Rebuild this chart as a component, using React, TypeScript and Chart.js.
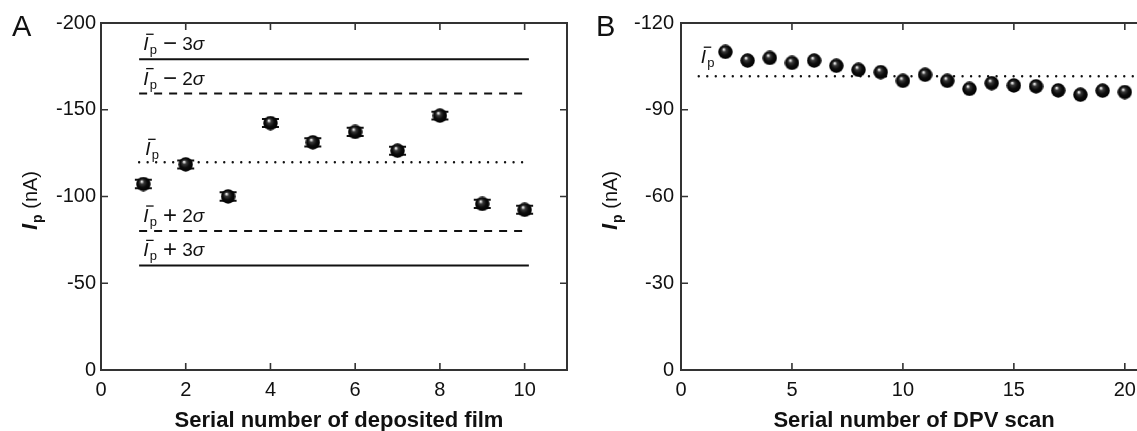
import React, { useEffect, useRef } from "react";
import { Chart, registerables } from "chart.js";

Chart.register(...registerables);

const FONT = '"Liberation Sans", Arial, Helvetica, sans-serif';
const INK = "#111111";
const AXIS = "#333333";

// ---------- Panel A: deposited films ----------
const filmSerial = [1, 2, 3, 4, 5, 6, 7, 8, 9, 10];
const filmPeak = [-107.2, -118.5, -100.0, -142.3, -131.2, -137.2, -126.4, -146.6, -95.7, -92.3];
const filmError = [2.4, 2.3, 2.5, 2.3, 2.4, 2.4, 2.3, 2.2, 2.4, 2.3];
const controlLevels = [-179.1, -159.3, -119.7, -80.1, -60.3];
const controlOps = ["−", "−", "", "+", "+"];
const controlMults = ["3", "2", "", "2", "3"];
const controlStyles = ["solid", "dashed", "dotted", "dashed", "solid"];
const controlSpan = [0.9, 10.1];
const filmXTicks = [0, 2, 4, 6, 8, 10];
const filmYTicks = [0, -50, -100, -150, -200];

// ---------- Panel B: repeated DPV scans ----------
const scanSerial = [2, 3, 4, 5, 6, 7, 8, 9, 10, 11, 12, 13, 14, 15, 16, 17, 18, 19, 20];
const scanPeak = [-110.0, -107.0, -107.9, -106.2, -107.0, -105.2, -103.8, -103.0, -100.0, -102.1, -100.0, -97.2, -99.2, -98.4, -98.1, -96.7, -95.2, -96.6, -96.1];
const scanMeanLevels = [-101.6];
const scanMeanStyles = ["dotted"];
const scanMeanSpan = [0.8, 21];
const scanXTicks = [0, 5, 10, 15, 20];
const scanYTicks = [0, -30, -60, -90, -120];

function makeSphere(d: number): HTMLCanvasElement {
  const c = document.createElement("canvas");
  c.width = d;
  c.height = d;
  const g = c.getContext("2d")!;
  const r = d / 2;
  const grad = g.createRadialGradient(r * 0.75, r * 0.62, 0, r, r, r);
  grad.addColorStop(0, "#ffffff");
  grad.addColorStop(0.1, "#d8d8d8");
  grad.addColorStop(0.28, "#3a3a3a");
  grad.addColorStop(0.6, "#0c0c0c");
  grad.addColorStop(1, "#000000");
  g.fillStyle = grad;
  g.beginPath();
  g.arc(r, r, r - 0.3, 0, Math.PI * 2);
  g.fill();
  return c;
}

function dashFor(style: string): { dash: number[]; cap: CanvasLineCap; width: number } {
  if (style === "dashed") return { dash: [8, 7], cap: "butt", width: 2 };
  if (style === "dotted") return { dash: [0.01, 8.5], cap: "round", width: 2.4 };
  return { dash: [], cap: "butt", width: 2 };
}

function drawIbar(ctx: CanvasRenderingContext2D, x: number, y: number, op: string, mult: string) {
  ctx.save();
  ctx.fillStyle = INK;
  ctx.strokeStyle = INK;
  ctx.textAlign = "left";
  ctx.textBaseline = "alphabetic";
  ctx.font = `italic 19px ${FONT}`;
  ctx.fillText("I", x, y);
  ctx.lineWidth = 1.3;
  ctx.beginPath();
  ctx.moveTo(x + 3, y - 16);
  ctx.lineTo(x + 10.5, y - 16);
  ctx.stroke();
  ctx.font = `13px ${FONT}`;
  ctx.fillText("p", x + 6.5, y + 4);
  if (op) {
    ctx.font = `24px ${FONT}`;
    ctx.textAlign = "center";
    ctx.fillText(op, x + 27, y + 1);
    ctx.textAlign = "left";
    ctx.font = `19px ${FONT}`;
    ctx.fillText(mult, x + 39, y);
    ctx.font = `italic 19px ${FONT}`;
    ctx.fillText("σ", x + 49.5, y);
  }
  ctx.restore();
}

type LabelSpec = { level: number; op: string; mult: string; dx: number; dy: number };

type PanelSpec = {
  letter: string;
  letterX: number;
  xMax: number;
  yMin: number;
  xTicks: number[];
  yTicks: number[];
  yTickPad: number;
  xTitle: string;
  xTitleCenter: number;
  serial: number[];
  peak: number[];
  errors?: number[];
  levels: number[];
  styles: string[];
  span: number[];
  labels: LabelSpec[];
};

function buildChart(canvas: HTMLCanvasElement, spec: PanelSpec) {
  const sphere = makeSphere(15);
  const datasets: any[] = [
    {
      data: spec.serial.map((x, i) => ({ x, y: spec.peak[i] })),
      pointStyle: sphere,
      pointRadius: 7.5,
      showLine: false,
    },
  ];
  spec.levels.forEach((lv, i) => {
    const d = dashFor(spec.styles[i]);
    datasets.push({
      data: spec.span.map((x) => ({ x, y: lv })),
      showLine: true,
      pointRadius: 0,
      borderColor: INK,
      borderWidth: d.width,
      borderDash: d.dash,
      borderCapStyle: d.cap,
      fill: false,
    });
  });

  const decor = {
    id: "decor",
    beforeDatasetsDraw(chart: any) {
      if (!spec.errors) return;
      const ctx = chart.ctx as CanvasRenderingContext2D;
      const ys = chart.scales.y;
      const meta = chart.getDatasetMeta(0);
      ctx.save();
      ctx.strokeStyle = INK;
      ctx.lineWidth = 2;
      meta.data.forEach((pt: any, i: number) => {
        const top = ys.getPixelForValue(spec.peak[i] - spec.errors![i]);
        const bot = ys.getPixelForValue(spec.peak[i] + spec.errors![i]);
        ctx.beginPath();
        ctx.moveTo(pt.x, top);
        ctx.lineTo(pt.x, bot);
        ctx.moveTo(pt.x - 8.5, top);
        ctx.lineTo(pt.x + 8.5, top);
        ctx.moveTo(pt.x - 8.5, bot);
        ctx.lineTo(pt.x + 8.5, bot);
        ctx.stroke();
      });
      ctx.restore();
    },
    afterDraw(chart: any) {
      const ctx = chart.ctx as CanvasRenderingContext2D;
      const { left, right, top, bottom } = chart.chartArea;
      const xs = chart.scales.x;
      const ys = chart.scales.y;
      ctx.save();
      ctx.strokeStyle = AXIS;
      ctx.lineWidth = 2;
      ctx.strokeRect(left, top, right - left, bottom - top);
      ctx.lineWidth = 1.6;
      ctx.beginPath();
      xs.ticks.forEach((t: any) => {
        const px = xs.getPixelForValue(t.value);
        if (px <= left + 1 || px >= right - 1) return;
        ctx.moveTo(px, bottom);
        ctx.lineTo(px, bottom - 7);
        ctx.moveTo(px, top);
        ctx.lineTo(px, top + 7);
      });
      ys.ticks.forEach((t: any) => {
        const py = ys.getPixelForValue(t.value);
        if (py <= top + 1 || py >= bottom - 1) return;
        ctx.moveTo(left, py);
        ctx.lineTo(left + 7, py);
        ctx.moveTo(right, py);
        ctx.lineTo(right - 7, py);
      });
      ctx.stroke();

      ctx.fillStyle = INK;
      ctx.textAlign = "left";
      ctx.textBaseline = "alphabetic";
      ctx.font = `29px ${FONT}`;
      ctx.fillText(spec.letter, spec.letterX, 36);

      ctx.font = `bold 22px ${FONT}`;
      ctx.textAlign = "center";
      ctx.fillText(spec.xTitle, spec.xTitleCenter, 427);

      ctx.save();
      ctx.translate(37, 230);
      ctx.rotate(-Math.PI / 2);
      ctx.textAlign = "left";
      ctx.font = `italic bold 22px ${FONT}`;
      ctx.fillText("I", 0, 0);
      let w = ctx.measureText("I").width + 1;
      ctx.font = `bold 14px ${FONT}`;
      ctx.fillText("p", w, 5);
      w += ctx.measureText("p").width;
      ctx.font = `20px ${FONT}`;
      ctx.fillText(" (nA)", w, 0);
      ctx.restore();

      const x0 = xs.getPixelForValue(spec.span[0]);
      spec.labels.forEach((lb) => {
        drawIbar(ctx, x0 + lb.dx, ys.getPixelForValue(lb.level) + lb.dy, lb.op, lb.mult);
      });
      ctx.restore();
    },
  };

  const tickFont = { family: FONT, size: 20 };
  return new Chart(canvas, {
    type: "scatter",
    data: { datasets },
    options: {
      responsive: false,
      animation: false,
      events: [],
      layout: { padding: { left: 41, right: 13, top: 23, bottom: 0 } },
      plugins: { legend: { display: false }, tooltip: { enabled: false } },
      scales: {
        x: {
          type: "linear",
          min: 0,
          max: spec.xMax,
          grid: { display: false, drawTicks: false },
          border: { display: false },
          ticks: { font: tickFont, color: INK, padding: 8, maxRotation: 0, autoSkip: false },
          afterBuildTicks: (s: any) => {
            s.ticks = spec.xTicks.map((v) => ({ value: v }));
          },
          afterFit: (s: any) => {
            s.height = 61;
          },
        },
        y: {
          type: "linear",
          min: spec.yMin,
          max: 0,
          reverse: true,
          grid: { display: false, drawTicks: false },
          border: { display: false },
          ticks: { font: tickFont, color: INK, padding: spec.yTickPad, autoSkip: false },
          afterBuildTicks: (s: any) => {
            s.ticks = spec.yTicks.map((v) => ({ value: v }));
          },
          afterFit: (s: any) => {
            s.width = 60;
          },
        },
      },
    } as any,
    plugins: [decor as any],
  });
}

export default function App() {
  const refA = useRef<HTMLCanvasElement>(null);
  const refB = useRef<HTMLCanvasElement>(null);

  useEffect(() => {
    const specA: PanelSpec = {
      letter: "A",
      letterX: 12,
      xMax: 11,
      yMin: -200,
      xTicks: filmXTicks,
      yTicks: filmYTicks,
      yTickPad: 5,
      xTitle: "Serial number of deposited film",
      xTitleCenter: 339,
      serial: filmSerial,
      peak: filmPeak,
      errors: filmError,
      levels: controlLevels,
      styles: controlStyles,
      span: controlSpan,
      labels: controlLevels.map((lv, i) => ({
        level: lv,
        op: controlOps[i],
        mult: controlMults[i],
        dx: controlOps[i] ? 4 : 6,
        dy: controlOps[i] ? -9 : -7,
      })),
    };
    const specB: PanelSpec = {
      letter: "B",
      letterX: 16,
      xMax: 21,
      yMin: -120,
      xTicks: scanXTicks,
      yTicks: scanYTicks,
      yTickPad: 7,
      xTitle: "Serial number of DPV scan",
      xTitleCenter: 334,
      serial: scanSerial,
      peak: scanPeak,
      levels: scanMeanLevels,
      styles: scanMeanStyles,
      span: scanMeanSpan,
      labels: [{ level: scanMeanLevels[0], op: "", mult: "", dx: 2, dy: -13 }],
    };
    const a = buildChart(refA.current!, specA);
    const b = buildChart(refB.current!, specB);
    return () => {
      a.destroy();
      b.destroy();
    };
  }, []);

  return (
    <div
      style={{
        position: "fixed",
        left: 0,
        top: 0,
        width: 1137,
        height: 431,
        overflow: "hidden",
        background: "#ffffff",
      }}
    >
      <canvas
        ref={refA}
        width={580}
        height={431}
        style={{ position: "absolute", left: 0, top: 0, width: 580, height: 431 }}
      />
      <canvas
        ref={refB}
        width={580}
        height={431}
        style={{ position: "absolute", left: 580, top: 0, width: 580, height: 431 }}
      />
    </div>
  );
}
